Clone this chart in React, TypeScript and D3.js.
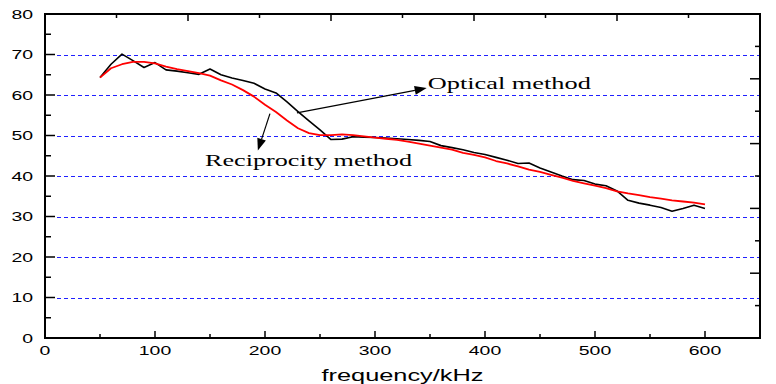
import React from "react";
import * as d3 from "d3";

const freq = [50,60,70,80,90,100,110,120,130,140,150,160,170,180,190,200,210,220,230,240,250,260,270,280,290,300,310,320,330,340,350,360,370,380,390,400,410,420,430,440,450,460,470,480,490,500,510,520,530,540,550,560,570,580,590,600];
const optical = [64.3,67.6,70.1,68.5,66.8,68.0,66.2,65.9,65.5,65.1,66.4,65.0,64.2,63.6,62.9,61.5,60.5,58.3,55.9,53.6,51.4,49.0,49.1,49.7,49.6,49.5,49.4,49.2,49.0,48.8,48.5,47.5,47.0,46.5,45.8,45.3,44.6,43.9,43.1,43.2,42.0,41.0,40.0,39.1,38.9,38.0,37.6,36.3,34.0,33.3,32.8,32.2,31.3,32.0,32.8,32.0];
const reciprocity = [64.3,66.6,67.6,68.2,68.2,67.8,67.0,66.4,65.9,65.4,64.8,63.6,62.6,61.2,59.6,57.6,55.8,53.7,51.8,50.6,50.1,50.1,50.3,50.1,49.8,49.5,49.2,48.9,48.5,48.0,47.5,47.0,46.5,45.7,45.2,44.6,43.7,43.1,42.4,41.6,41.0,40.3,39.6,38.8,38.2,37.6,37.0,36.2,35.7,35.3,34.8,34.4,34.0,33.7,33.4,33.0];

const xTicks = [0,100,200,300,400,500,600];
const xMinor = [50,150,250,350,450,550,650];
const yTicks = [0,10,20,30,40,50,60,70,80];
const yMinor = [5,15,25,35,45,55,65,75];
const gridValues = [10,20,30,40,50,60,70];
const xTitle = "frequency/kHz";
const opticalLabel = "Optical method";
const reciprocityLabel = "Reciprocity method";
// annotation anchors in data units: [x, y]
const opticalArrow = [[229, 55.6], [347, 61.7]];
const recipArrow = [[204.5, 55.4], [193.5, 46.3]];
const opticalText = [348, 61.6];
const recipText = [145.5, 42.4];

export default function App() {
  const W = 776, H = 384;
  const x = d3.scaleLinear().domain([0, 650]).range([45, 760]);
  const y = d3.scaleLinear().domain([0, 80]).range([338, 14]);
  const xTop = d3.scaleLinear().domain([0, 10]).range([45, 760]);
  const yRight = d3.scaleLinear().domain([0, 10]).range([338, 14]);
  const x0 = x(0), x1 = x(650), y0 = y(0), y1 = y(80);

  const line = d3.line<number>().x((_, i) => x(freq[i])).y((d) => y(d));

  const arrowHead = (a: number[][], len = 12, wid = 4.5) => {
    const [sx, sy] = [x(a[0][0]), y(a[0][1])];
    const [ex, ey] = [x(a[1][0]), y(a[1][1])];
    const ang = Math.atan2(ey - sy, ex - sx);
    const bx = ex - len * Math.cos(ang), by = ey - len * Math.sin(ang);
    const px = -Math.sin(ang) * wid, py = Math.cos(ang) * wid;
    return {
      shaft: `M${sx},${sy}L${bx},${by}`,
      head: `M${ex},${ey}L${bx + px},${by + py}L${bx - px},${by - py}Z`,
    };
  };
  const oa = arrowHead(opticalArrow);
  const ra = arrowHead(recipArrow);

  const sans = "'Liberation Sans', Arial, sans-serif";
  const serif = "'Liberation Serif', 'Times New Roman', serif";
  const crisp = (v: number) => Math.round(v) + 0.5;

  return (
    <svg width={W} height={H} style={{ position: "absolute", left: 0, top: 0, background: "#fff" }}>
      <rect width={W} height={H} fill="#fff" />
      {/* grid */}
      {gridValues.map((v) => (
        <line key={"g" + v} x1={x0 + 12} x2={x1} y1={crisp(y(v))} y2={crisp(y(v))} stroke="#2020ff" strokeWidth={1}
          strokeDasharray="4,3" shapeRendering="crispEdges" />
      ))}
      {/* series */}
      <path d={line(optical) || ""} fill="none" stroke="#000" strokeWidth={1.6} strokeLinejoin="round" />
      <path d={line(reciprocity) || ""} fill="none" stroke="#ff0000" strokeWidth={1.8} strokeLinejoin="round" />
      {/* frame */}
      <rect x={x0} y={y1} width={x1 - x0} height={y0 - y1} fill="none" stroke="#000" strokeWidth={2} />
      {/* bottom ticks */}
      {xTicks.map((v) => (
        <line key={"xt" + v} x1={x(v)} x2={x(v)} y1={y0} y2={y0 - 7} stroke="#000" strokeWidth={1.5} />
      ))}
      {xMinor.map((v) => (
        <line key={"xm" + v} x1={x(v)} x2={x(v)} y1={y0} y2={y0 - 4} stroke="#000" strokeWidth={1.5} />
      ))}
      {/* left ticks */}
      {yTicks.map((v) => (
        <line key={"yt" + v} x1={x0} x2={x0 + 10} y1={y(v)} y2={y(v)} stroke="#000" strokeWidth={1.5} />
      ))}
      {yMinor.map((v) => (
        <line key={"ym" + v} x1={x0} x2={x0 + 6} y1={y(v)} y2={y(v)} stroke="#000" strokeWidth={1.5} />
      ))}
      {/* top ticks */}
      {d3.range(1, 10).map((v) => (
        <line key={"tt" + v} x1={xTop(v)} x2={xTop(v)} y1={y1} y2={y1 + (v % 2 === 0 ? 7 : 4)} stroke="#000" strokeWidth={1.5} />
      ))}
      {/* right ticks */}
      {d3.range(1, 10).map((v) => (
        <line key={"rt" + v} x1={x1} x2={x1 - (v % 2 === 0 ? 10 : 5)} y1={yRight(v)} y2={yRight(v)} stroke="#000" strokeWidth={1.5} />
      ))}
      {/* tick labels */}
      {xTicks.map((v) => (
        <text key={"xl" + v} x={x(v)} y={y0 + 17} textAnchor="middle" fontFamily={sans} fontSize={12.5}
          textLength={String(v).length * 10.8} lengthAdjust="spacingAndGlyphs">{v}</text>
      ))}
      {yTicks.map((v) => (
        <text key={"yl" + v} x={33} y={y(v) + 4.5} textAnchor="end" fontFamily={sans} fontSize={12.5}
          textLength={String(v).length * 10.8} lengthAdjust="spacingAndGlyphs">{v}</text>
      ))}
      <text x={(x0 + x1) / 2} y={381} textAnchor="middle" fontFamily={sans} fontSize={17}
        textLength={162} lengthAdjust="spacingAndGlyphs">{xTitle}</text>
      {/* annotations */}
      <path d={oa.shaft} stroke="#000" strokeWidth={1.2} fill="none" />
      <path d={oa.head} fill="#000" />
      <path d={ra.shaft} stroke="#000" strokeWidth={1.2} fill="none" />
      <path d={ra.head} fill="#000" />
      <text x={x(opticalText[0])} y={y(opticalText[1])} fontFamily={serif} fontSize={17}
        textLength={163} lengthAdjust="spacingAndGlyphs">{opticalLabel}</text>
      <text x={x(recipText[0])} y={y(recipText[1])} fontFamily={serif} fontSize={17}
        textLength={207} lengthAdjust="spacingAndGlyphs">{reciprocityLabel}</text>
    </svg>
  );
}
